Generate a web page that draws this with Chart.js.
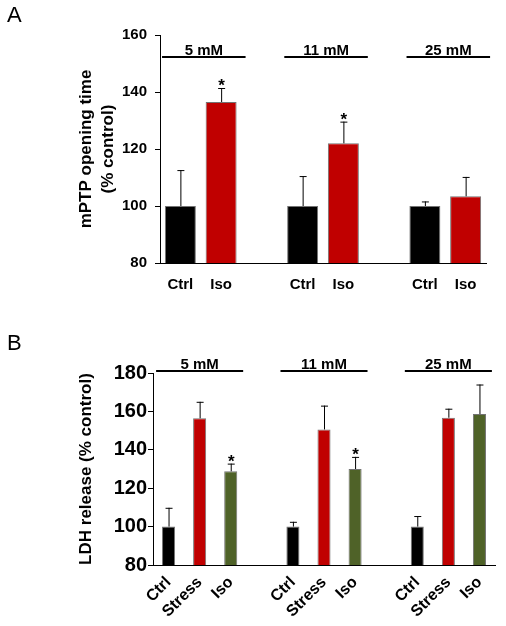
<!DOCTYPE html>
<html>
<head>
<meta charset="utf-8">
<script src="https://cdn.jsdelivr.net/npm/chart.js@4.4.1/dist/chart.umd.min.js"></script>
<style>
  body { margin: 0; background: #fff; }
  #wrap { position: relative; width: 506px; height: 626px; }
  canvas { position: absolute; left: 0; }
</style>
</head>
<body>
<div id="wrap">
  <canvas id="chartA" width="506" height="300" style="top:0"></canvas>
  <canvas id="chartB" width="506" height="326" style="top:300px"></canvas>
</div>
<script>
const FONT = "'Liberation Sans', Arial, sans-serif";

// glucose concentrations (one bracket each)
const glucose = ['5 mM', '11 mM', '25 mM'];

// A: mPTP opening time (% control)
const condA = ['Ctrl', 'Iso'];
const mptpMean = [100, 136.5, 100, 122, 100, 103.4];
const mptpErr = [12.6, 4.9, 10.5, 7.6, 1.6, 6.8];
const mptpSig = [0, 1, 0, 1, 0, 0];
const colorsA = ['#000000', '#c00000'];
const ticksA = [80, 100, 120, 140, 160];

// B: LDH release (% control)
const condB = ['Ctrl', 'Stress', 'Iso'];
const ldhMean = [100, 156.4, 128.8, 100, 150.6, 130, 100, 156.7, 158.6];
const ldhErr = [9.8, 8.6, 4.0, 2.5, 12.4, 6.3, 5.5, 4.7, 15.4];
const ldhSig = [0, 0, 1, 0, 0, 1, 0, 0, 0];
const colorsB = ['#000000', '#c00000', '#4f6228'];
const ticksB = [80, 100, 120, 140, 160, 180];

Chart.defaults.color = '#000';
Chart.defaults.font.family = FONT;

// lay the groups out on a category axis with one empty slot between groups
function buildSlots(conds, means, errs, sig, colors) {
	let s = { labels: [], data: [], err: [], star: [], bg: [], spans: [] };
	glucose.forEach(function (g, gi) {
		if (gi > 0) {
			s.labels.push(''); s.data.push(null); s.err.push(null); s.star.push(0); s.bg.push('rgba(0,0,0,0)');
		}
		let first = s.labels.length;
		conds.forEach(function (c, ci) {
			let k = gi * conds.length + ci;
			s.labels.push(c);
			s.data.push(means[k]);
			s.err.push(errs[k]);
			s.star.push(sig[k]);
			s.bg.push(colors[ci]);
		});
		s.spans.push([first, s.labels.length - 1]);
	});
	return s;
}

const annotate = {
	id: 'annotate',
	afterDatasetsDraw(chart, args, o) {
		const ctx = chart.ctx;
		const xs = chart.scales.x, ys = chart.scales.y;
		const meta = chart.getDatasetMeta(0);
		const slot = xs.getPixelForValue(1) - xs.getPixelForValue(0);
		ctx.save();
		ctx.strokeStyle = '#000';
		ctx.fillStyle = '#000';
		// error bars (upper only) and significance marks
		meta.data.forEach(function (bar, i) {
			let v = o.slots.data[i];
			if (v === null) return;
			let yTop = ys.getPixelForValue(v + o.slots.err[i]);
			ctx.lineWidth = 1;
			ctx.beginPath();
			ctx.moveTo(bar.x + 0.5, bar.y);
			ctx.lineTo(bar.x + 0.5, yTop);
			ctx.moveTo(bar.x - 3, yTop + 0.5);
			ctx.lineTo(bar.x + 4, yTop + 0.5);
			ctx.stroke();
			if (o.slots.star[i]) {
				ctx.font = 'bold 17px ' + FONT;
				ctx.textAlign = 'center';
				ctx.textBaseline = 'alphabetic';
				ctx.fillText('*', bar.x + 0.5, yTop + 3);
			}
		});
		// glucose brackets
		o.slots.spans.forEach(function (sp, gi) {
			let x0 = xs.getPixelForValue(sp[0]) - o.padL * slot;
			let x1 = xs.getPixelForValue(sp[1]) + o.padR * slot;
			ctx.lineWidth = 2;
			ctx.beginPath();
			ctx.moveTo(x0, o.lineY);
			ctx.lineTo(x1, o.lineY);
			ctx.stroke();
			ctx.font = 'bold 15px ' + FONT;
			ctx.textAlign = 'center';
			ctx.textBaseline = 'alphabetic';
			ctx.fillText(glucose[gi], (x0 + x1) / 2, o.lineY - 2);
		});
		// panel letter
		ctx.font = '22px ' + FONT;
		ctx.textAlign = 'left';
		ctx.fillText(o.letter, 7, o.letterY);
		ctx.restore();
	}
};

function makeChart(id, s, cfg) {
	return new Chart(document.getElementById(id), {
		type: 'bar',
		data: {
			labels: s.labels,
			datasets: [{
				data: s.data,
				backgroundColor: s.bg,
				borderColor: 'rgba(0,0,0,0.55)',
				borderWidth: 1,
				barPercentage: cfg.barPct,
				categoryPercentage: 1
			}]
		},
		options: {
			responsive: false,
			animation: false,
			layout: { padding: { top: cfg.top, right: cfg.right, left: 0, bottom: 0 } },
			plugins: {
				legend: { display: false },
				tooltip: { enabled: false },
				annotate: { slots: s, padL: cfg.padL, padR: cfg.padR, lineY: cfg.lineY, letter: cfg.letter, letterY: cfg.letterY }
			},
			scales: {
				x: {
					grid: { display: false, drawTicks: false },
					border: { display: true, color: '#000', width: 1 },
					ticks: {
						font: { size: cfg.xFont, weight: 'bold' },
						padding: cfg.xPad,
						autoSkip: false,
						minRotation: cfg.rot,
						maxRotation: cfg.rot
					},
					afterFit: function (sc) { sc.height = cfg.xHeight; }
				},
				y: {
					min: cfg.ticks[0],
					max: cfg.ticks[cfg.ticks.length - 1],
					afterBuildTicks: function (sc) { sc.ticks = cfg.ticks.map(function (v) { return { value: v }; }); },
					grid: { drawOnChartArea: false, drawTicks: true, tickLength: 5, color: '#000' },
					border: { display: true, color: '#000', width: 1 },
					ticks: { font: { size: cfg.yFont, weight: 'bold' }, padding: cfg.yPad },
					title: {
						display: true,
						text: cfg.title,
						font: { size: 17, weight: 'bold', lineHeight: cfg.titleLH },
						padding: { top: cfg.titlePad, bottom: 0 }
					},
					afterFit: function (sc) { sc.width = cfg.yWidth; }
				}
			}
		},
		plugins: [annotate]
	});
}

makeChart('chartA', buildSlots(condA, mptpMean, mptpErr, mptpSig, colorsA), {
	barPct: 0.76, top: 35, right: 20, xHeight: 37, xFont: 15, xPad: 13, rot: 0,
	ticks: ticksA, yFont: 15, yPad: 8, yWidth: 160,
	title: ['mPTP opening time', '(% control)'], titleLH: 1.3, titlePad: 75,
	padL: 0.45, padR: 0.6, lineY: 57, letter: 'A', letterY: 22
});

makeChart('chartB', buildSlots(condB, ldhMean, ldhErr, ldhSig, colorsB), {
	barPct: 0.42, top: 73, right: 11, xHeight: 61, xFont: 16, xPad: 8, rot: 45,
	ticks: ticksB, yFont: 20, yPad: 1, yWidth: 153,
	title: 'LDH release (% control)', titleLH: 1.2, titlePad: 76,
	padL: 0.4, padR: 0.4, lineY: 71, letter: 'B', letterY: 50
});
</script>
</body>
</html>
